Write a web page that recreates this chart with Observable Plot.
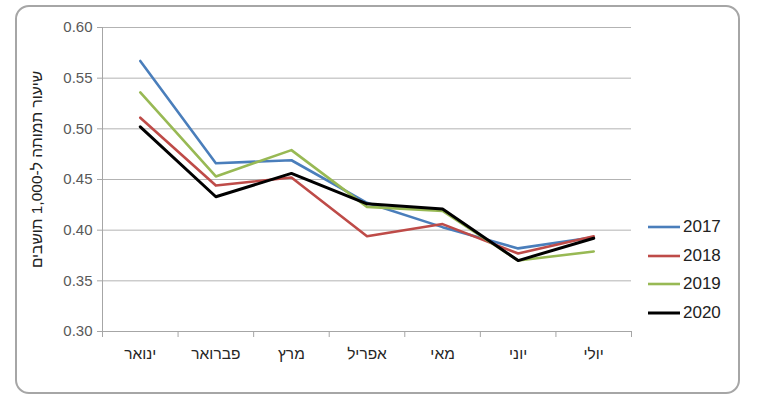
<!DOCTYPE html>
<html>
<head>
<meta charset="utf-8">
<script src="https://cdn.jsdelivr.net/npm/d3@7"></script>
<script src="https://cdn.jsdelivr.net/npm/@observablehq/plot@0.6"></script>
<style>
  html, body { margin: 0; padding: 0; background: #fff; }
  #wrap { position: relative; width: 758px; height: 398px; font-family: "Liberation Sans", Arial, sans-serif; }
  #frame { position: absolute; left: 15px; top: 5px; width: 721px; height: 385px; border: 2px solid #a6a6a6; border-radius: 14px; box-sizing: content-box; pointer-events: none; }
  #chart { position: absolute; left: 0; top: 0; }
  #legend { position: absolute; left: 648px; top: 213px; font-size: 17px; color: #222; }
  .item { display: flex; align-items: center; height: 28.5px; }
  .item svg { margin-right: 3px; }
</style>
</head>
<body>
<div id="wrap">
  <div id="chart"></div>
  <div id="frame"></div>
  <div id="legend"></div>
</div>
<script>
const months = ["ינואר", "פברואר", "מרץ", "אפריל", "מאי", "יוני", "יולי"];
const years = ["2017", "2018", "2019", "2020"];
const y2017 = [0.567, 0.466, 0.469, 0.427, 0.403, 0.382, 0.393];
const y2018 = [0.511, 0.444, 0.452, 0.394, 0.406, 0.377, 0.394];
const y2019 = [0.536, 0.453, 0.479, 0.423, 0.419, 0.370, 0.379];
const y2020 = [0.502, 0.433, 0.456, 0.426, 0.421, 0.370, 0.392];
const yTicks = [0.30, 0.35, 0.40, 0.45, 0.50, 0.55, 0.60];
const yLabel = "שיעור תמותה ל-1,000 תושבים";

const colors = ["#4a7ebb", "#be4b48", "#98b954", "#000000"];
const widths = [2.6, 2.6, 2.6, 3];
const series = [y2017, y2018, y2019, y2020];

const data = [];
series.forEach((vals, s) => vals.forEach((v, i) => data.push({year: years[s], i, v})));

const boundaries = d3.range(-0.5, months.length, 1);

const plot = Plot.plot({
  width: 758,
  height: 398,
  marginLeft: 102,
  marginRight: 127,
  marginTop: 27,
  marginBottom: 67,
  style: {fontFamily: "'Liberation Sans', Arial, sans-serif", background: "transparent"},
  x: {type: "linear", domain: [-0.5, months.length - 0.5]},
  y: {domain: [0.30, 0.60]},
  color: {domain: years, range: colors},
  marks: [
    Plot.gridY(yTicks, {stroke: "#b3b3b3", strokeOpacity: 1, strokeWidth: 1}),
    Plot.ruleX([-0.5], {stroke: "#a6a6a6", strokeWidth: 1}),
    Plot.axisY(yTicks, {
      tickFormat: d3.format(".2f"), tickSize: 5, stroke: "#a6a6a6",
      fontSize: 15, color: "#595959", tickPadding: 5,
      label: yLabel, labelAnchor: "center", labelArrow: false, labelOffset: 72
    }),
    Plot.axisX(boundaries, {tickFormat: () => "", tickSize: 6, stroke: "#a6a6a6", label: null}),
    Plot.ruleY([0.30], {stroke: "#a6a6a6", strokeWidth: 1}),
    Plot.axisX(d3.range(months.length), {
      tickFormat: i => months[i], tickSize: 0, tickPadding: 16,
      fontSize: 15.5, color: "#262626", label: null
    }),
    ...years.map((yr, s) => Plot.line(data.filter(d => d.year === yr), {
      x: "i", y: "v", stroke: colors[s], strokeWidth: widths[s], strokeLinejoin: "round"
    }))
  ]
});
plot.querySelectorAll("text").forEach(t => {
  if (t.textContent === yLabel) {
    t.setAttribute("font-size", "15.5");
    t.setAttribute("fill", "#222");
    t.setAttribute("dx", "10");
  }
});
document.getElementById("chart").appendChild(plot);

const legend = document.getElementById("legend");
years.forEach((yr, s) => {
  const item = document.createElement("div");
  item.className = "item";
  item.innerHTML = `<svg width="32" height="6"><line x1="0" x2="32" y1="3" y2="3" stroke="${colors[s]}" stroke-width="${widths[s]}"/></svg><span>${yr}</span>`;
  legend.appendChild(item);
});
</script>
</body>
</html>
